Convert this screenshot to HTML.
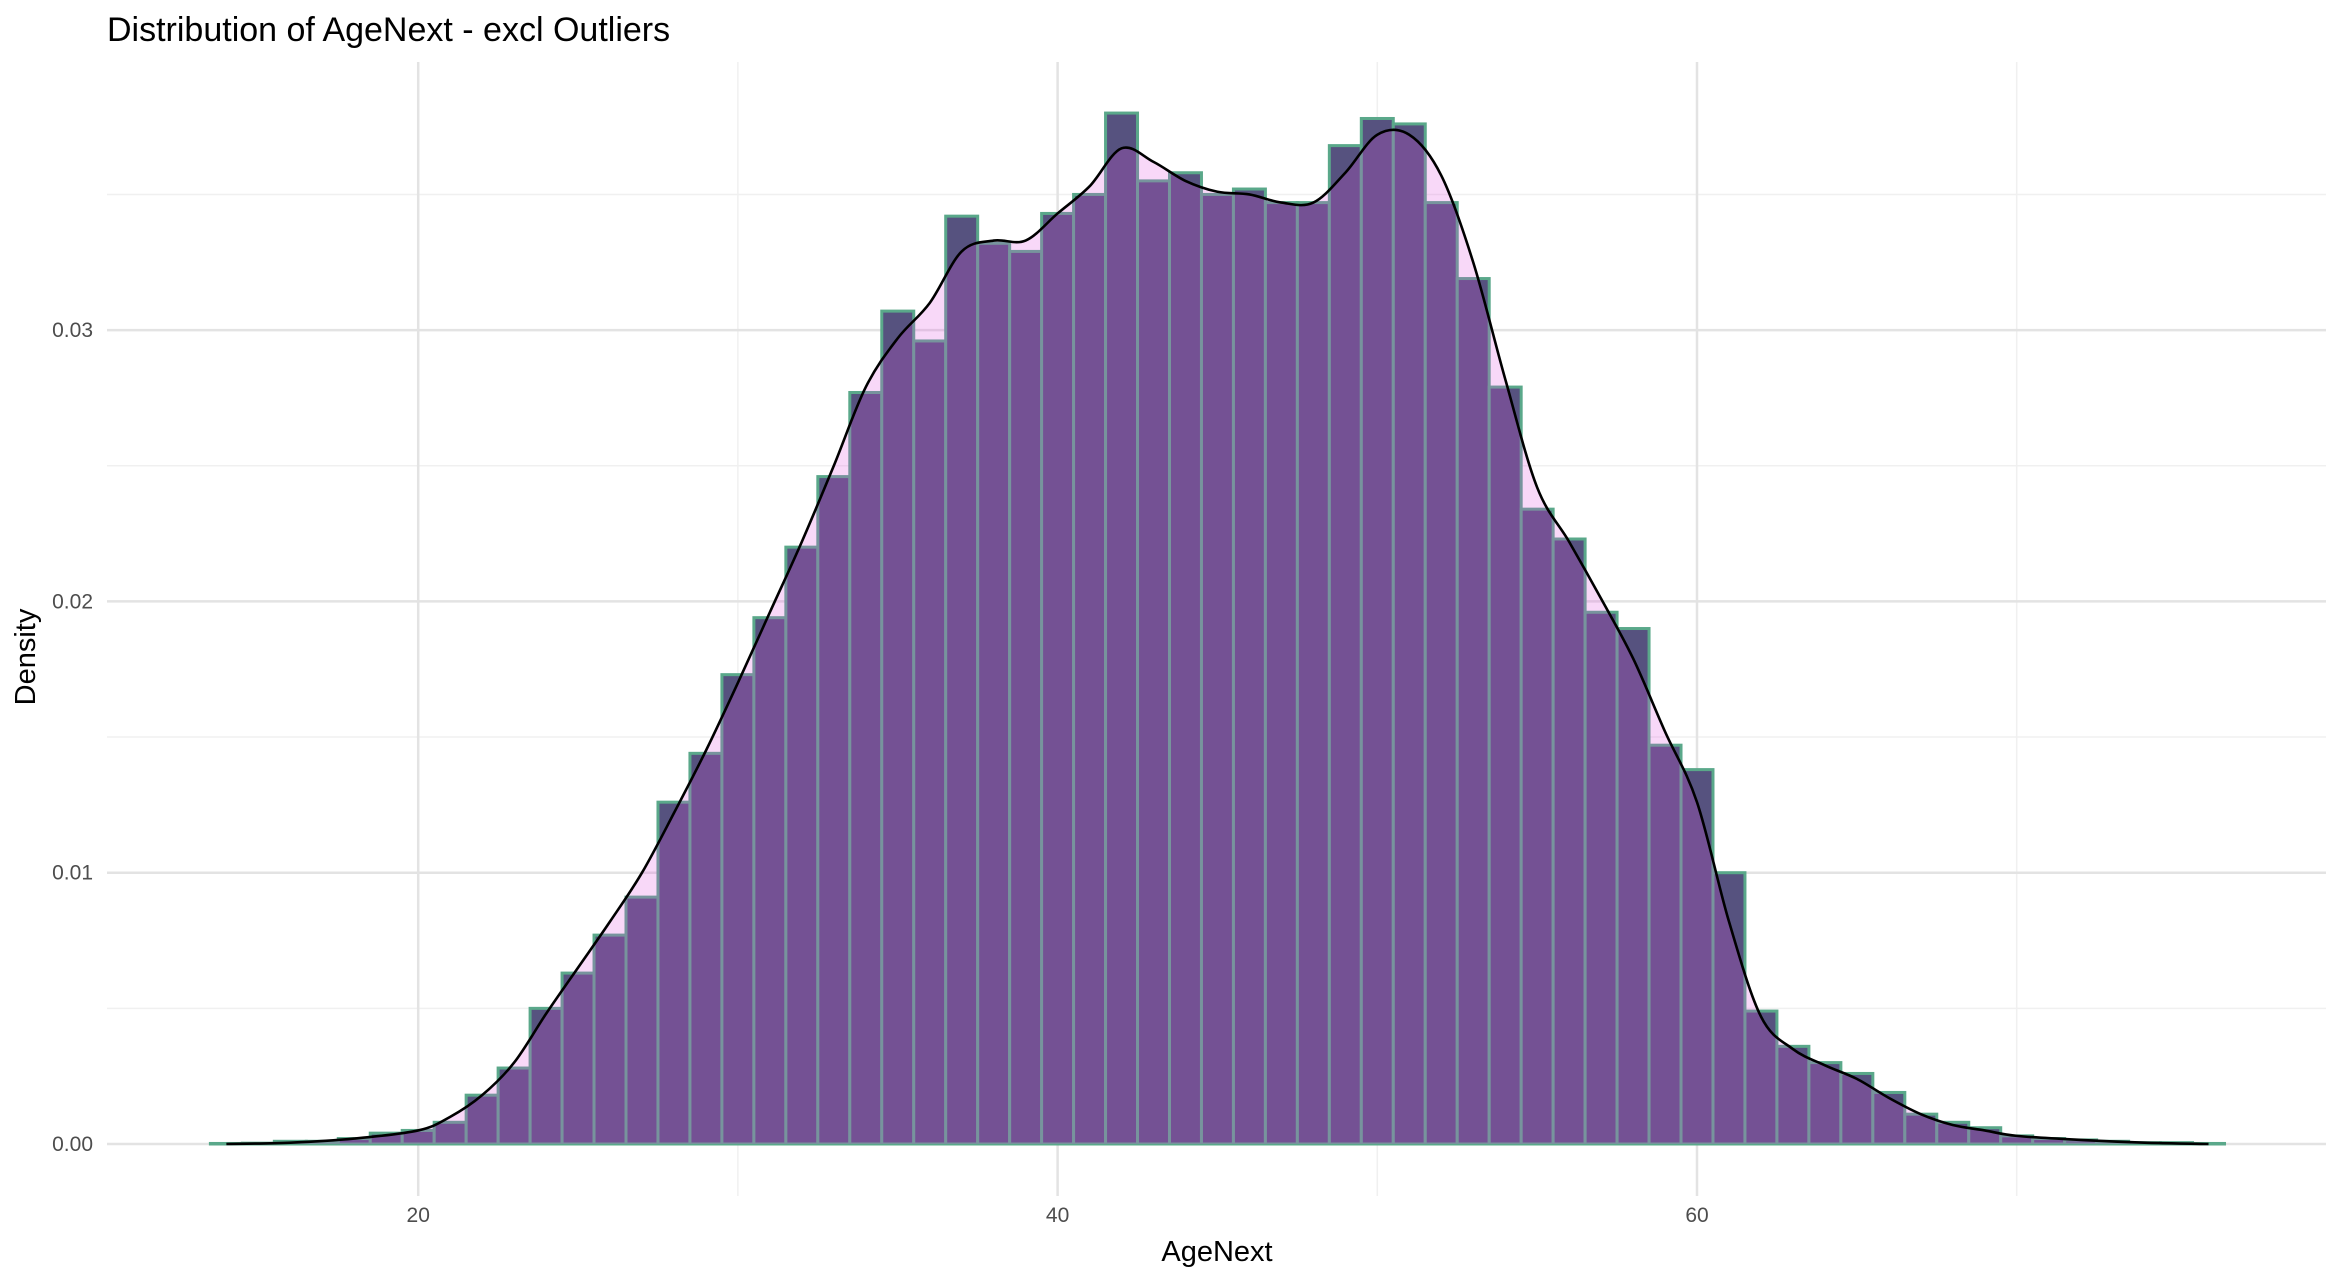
<!DOCTYPE html>
<html><head><meta charset="utf-8"><style>
html,body{margin:0;padding:0;background:#fff;}
svg{display:block;font-family:"Liberation Sans",sans-serif;}
</style></head><body>
<svg id="chart" width="2342" height="1280" viewBox="0 0 2342 1280" xmlns="http://www.w3.org/2000/svg">
<text x="107" y="41" font-size="34" fill="#000">Distribution of AgeNext - excl Outliers</text>
<g id="grid"></g>
<g id="bars"></g>
<g id="dens"></g>
<g id="axes"></g>
<text x="1217" y="1261" font-size="29" text-anchor="middle" fill="#000">AgeNext</text>
<text transform="translate(35,657) rotate(-90)" font-size="29" text-anchor="middle" fill="#000">Density</text>
</svg>
<script>
const binCenters = [14,15,16,17,18,19,20,21,22,23,24,25,26,27,28,29,30,31,32,33,34,35,36,37,38,39,40,41,42,43,44,45,46,47,48,49,50,51,52,53,54,55,56,57,58,59,60,61,62,63,64,65,66,67,68,69,70,71,72,73,74,75,76];
const binDensity = [0.00002,0.00003,0.0001,0.0001,0.0002,0.0004,0.0005,0.0008,0.0018,0.0028,0.0050,0.0063,0.0077,0.0091,0.0126,0.0144,0.0173,0.0194,0.0220,0.0246,0.0277,0.0307,0.0296,0.0342,0.0332,0.0329,0.0343,0.0350,0.0380,0.0355,0.0358,0.0350,0.0352,0.0347,0.0347,0.0368,0.0378,0.0376,0.0347,0.0319,0.0279,0.0234,0.0223,0.0196,0.0190,0.0147,0.0138,0.0100,0.0049,0.0036,0.0030,0.0026,0.0019,0.0011,0.0008,0.0006,0.0003,0.0002,0.00015,0.0001,0.00005,0.00005,0.00002];
const densX = [14,16,18,20,21,22,23,24,25,26,27,28,29,30,31,32,33,34,35,36,37,38,39,40,41,42,43,44,45,46,47,48,49,50,51,52,53,54,55,56,57,58,59,60,61,62,63,64,65,66,67,68,69,70,72,74,76];
const densY = [0,0.00005,0.0002,0.0005,0.001,0.0018,0.003,0.0048,0.0065,0.0082,0.010,0.0122,0.0145,0.017,0.0196,0.0222,0.025,0.0279,0.0297,0.031,0.0329,0.0333,0.0333,0.0343,0.0353,0.0367,0.0362,0.0355,0.0351,0.035,0.0347,0.0347,0.0358,0.0372,0.0372,0.0357,0.0325,0.0282,0.0242,0.0222,0.0201,0.0179,0.0152,0.0126,0.0082,0.0047,0.0035,0.0029,0.0024,0.0017,0.0011,0.0007,0.0005,0.0003,0.00015,0.00005,0];
const xTicks = [20,40,60];
const xMinor = [30,50,70];
const yTicks = [0,0.01,0.02,0.03];
const yMinor = [0.005,0.015,0.025,0.035];
const yTickLabels = ["0.00","0.01","0.02","0.03"];

const NS="http://www.w3.org/2000/svg";
const L=107,R=2326,T=62,B=1196;
const sx=v=>418.2+(v-20)*31.97;
const sy=v=>1144-v*27130;
function mk(tag,attrs,parent){const e=document.createElementNS(NS,tag);for(const k in attrs)e.setAttribute(k,attrs[k]);parent.appendChild(e);return e;}
const grid=document.getElementById('grid'),bars=document.getElementById('bars'),dens=document.getElementById('dens'),axes=document.getElementById('axes');
yMinor.forEach(v=>{const e=mk('line',{x1:L,x2:R,y1:sy(v),y2:sy(v),stroke:'#f0f0f0','stroke-width':1.5},grid);

});
xMinor.forEach(v=>{const e=mk('line',{x1:sx(v),x2:sx(v),y1:T,y2:B,stroke:'#f0f0f0','stroke-width':1.5},grid);

});
yTicks.forEach((v,i)=>{const e=mk('line',{x1:L,x2:R,y1:sy(v),y2:sy(v),stroke:'#e3e3e3','stroke-width':2.5},grid);


const t=mk('text',{x:93,y:sy(v)+7,'font-size':21,'text-anchor':'end',fill:'#4d4d4d'},axes);t.textContent=yTickLabels[i];

});
xTicks.forEach(v=>{const e=mk('line',{x1:sx(v),x2:sx(v),y1:T,y2:B,stroke:'#e3e3e3','stroke-width':2.5},grid);


const t=mk('text',{x:sx(v),y:1222,'font-size':21,'text-anchor':'middle',fill:'#4d4d4d'},axes);t.textContent=String(v);

});
binCenters.forEach((c,i)=>{const x0=sx(c-0.5),x1=sx(c+0.5),y=sy(binDensity[i]);
const r=mk('rect',{x:x0,y:y,width:x1-x0,height:Math.max(1144-y,0.5),fill:'#56527f',stroke:'#5aa88a','stroke-width':3},bars);

});
const pts=densX.map((x,i)=>[sx(x),sy(densY[i])]);
let d='M'+pts[0][0]+','+pts[0][1];
for(let i=0;i<pts.length-1;i++){const p0=pts[Math.max(i-1,0)],p1=pts[i],p2=pts[i+1],p3=pts[Math.min(i+2,pts.length-1)];
d+=' C'+(p1[0]+(p2[0]-p0[0])/6)+','+(p1[1]+(p2[1]-p0[1])/6)+' '+(p2[0]-(p3[0]-p1[0])/6)+','+(p2[1]-(p3[1]-p1[1])/6)+' '+p2[0]+','+p2[1];}
const area=mk('path',{d:d+' L'+pts[pts.length-1][0]+',1144 L'+pts[0][0]+',1144 Z',fill:'rgb(224,82,224)','fill-opacity':0.225},dens);


const line=mk('path',{d:d,fill:'none',stroke:'#000','stroke-width':2.6},dens);


</script>
</body></html>
